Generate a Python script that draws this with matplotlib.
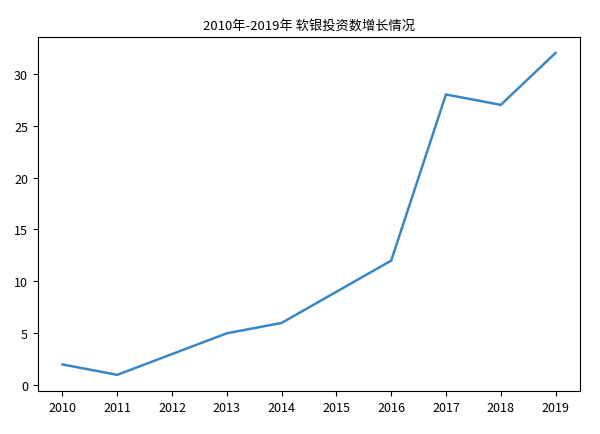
import matplotlib
matplotlib.use('Agg')
import matplotlib.pyplot as plt

plt.rcParams['font.family'] = ['Noto Sans CJK SC', 'DejaVu Sans']
plt.rcParams['axes.unicode_minus'] = False

years = ['2010', '2011', '2012', '2013', '2014', '2015', '2016', '2017', '2018', '2019']
counts = [2, 1, 3, 5, 6, 9, 12, 28, 27, 32]

fig = plt.figure(figsize=(6, 4.35), dpi=100)
ax = fig.add_axes([0.063, 0.099, 0.904, 0.814])
ax.plot(years, counts, color='#3b87c4', linewidth=1.8)
ax.set_title('2010年-2019年 软银投资数增长情况', fontsize=9.5)
ax.tick_params(labelsize=9)
ax.set_yticks([0, 5, 10, 15, 20, 25, 30])
fig.savefig('out.png')
